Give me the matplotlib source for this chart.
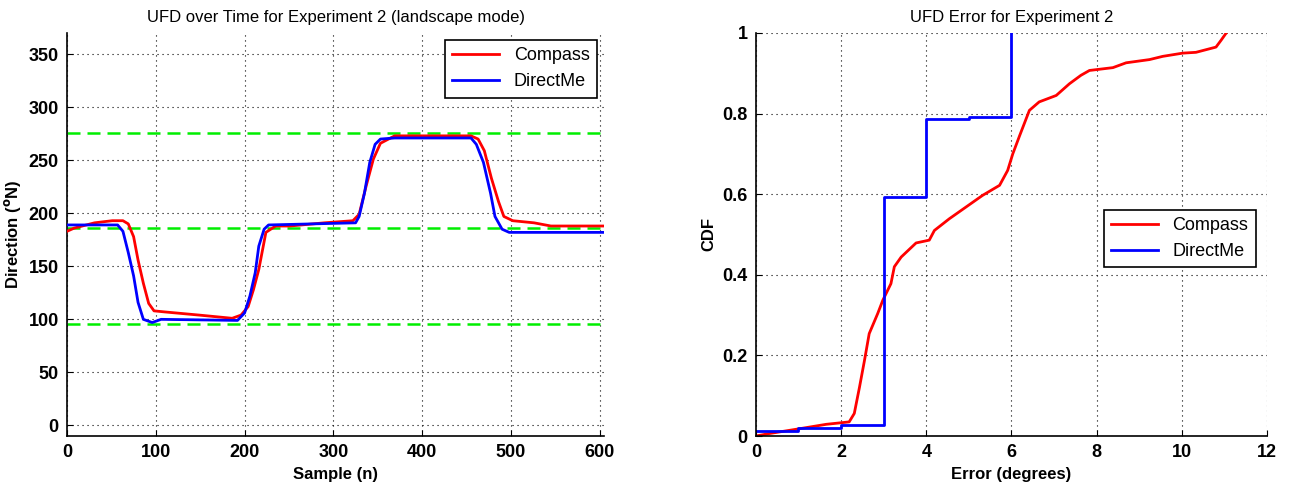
import matplotlib
matplotlib.use('Agg')
import matplotlib.pyplot as plt
from matplotlib import font_manager

# --- left panel: direction over time ---
compass_n = [0, 8, 31, 51, 63, 69, 75, 80, 86, 92, 98, 110, 149, 186, 196, 204,
             210, 216, 224, 235, 251, 290, 322, 329, 337, 345, 353, 369, 455,
             463, 470, 478, 486, 492, 502, 526, 545, 604]
compass_dir = [183, 186, 191, 193, 193, 190, 178, 156, 134, 115, 108, 107, 104,
               101, 104, 112, 128, 147, 182, 188, 188, 191, 193, 199, 226, 251,
               266, 273, 273, 270, 259, 233, 211, 197, 193, 191, 188, 188]

directme_n = [0, 57, 63, 69, 75, 80, 86, 96, 106, 192, 200, 206, 212, 216, 222,
              227, 325, 329, 335, 341, 347, 353, 369, 455, 461, 469, 477, 482,
              490, 498, 604]
directme_dir = [189, 189, 183, 163, 141, 116, 100, 97, 100, 99, 106, 122, 144,
                169, 185, 189, 191, 197, 219, 248, 265, 270, 271, 271, 265, 248,
                219, 197, 185, 182, 182]

ref_lines = [276, 186, 96]

# --- right panel: error CDF ---
compass_err = [0.0, 0.31, 1.02, 1.65, 2.19, 2.31, 2.43, 2.55, 2.66, 2.86, 2.98,
               3.17, 3.25, 3.41, 3.76, 4.07, 4.19, 4.54, 4.93, 5.32, 5.72, 5.91,
               6.03, 6.19, 6.42, 6.65, 7.05, 7.36, 7.63, 7.83, 8.38, 8.69, 9.24,
               9.55, 10.02, 10.33, 10.80, 10.92, 11.04]
compass_cdf = [0.0, 0.006, 0.018, 0.029, 0.035, 0.056, 0.12, 0.188, 0.254, 0.304,
               0.337, 0.378, 0.42, 0.444, 0.479, 0.486, 0.51, 0.539, 0.568, 0.597,
               0.622, 0.659, 0.70, 0.745, 0.808, 0.829, 0.845, 0.874, 0.895, 0.907,
               0.914, 0.926, 0.934, 0.942, 0.95, 0.952, 0.965, 0.982, 1.0]

directme_err = [0, 1, 2, 3, 4, 5, 6]
directme_cdf = [0.013, 0.02, 0.027, 0.593, 0.786, 0.792, 1.0]

names = [f.name for f in font_manager.fontManager.ttflist]
fam = 'Liberation Sans Narrow' if 'Liberation Sans Narrow' in names else 'Liberation Sans'
plt.rcParams['font.family'] = [fam, 'DejaVu Sans']

RED = '#ff0000'
BLUE = '#0000ff'
GREEN = '#00ee00'


def style_axes(ax):
    ax.grid(True, color='black', linestyle=(0, (1, 3.5)), linewidth=0.8)
    ax.set_axisbelow(True)
    for s in ('top', 'right'):
        ax.spines[s].set_visible(False)
    for s in ('left', 'bottom'):
        ax.spines[s].set_linewidth(1.2)
    ax.tick_params(direction='in', length=4, labelsize=13, pad=6)
    for lab in ax.get_xticklabels() + ax.get_yticklabels():
        lab.set_fontweight('bold')


fig = plt.figure(figsize=(12.91, 4.93), dpi=100)
ax1 = fig.add_axes([0.0519, 0.1156, 0.4161, 0.8175])
ax2 = fig.add_axes([0.5855, 0.1156, 0.3960, 0.8175])

for y in ref_lines:
    ax1.axhline(y, color=GREEN, linestyle=(0, (5.2, 2.8)), linewidth=1.8, zorder=2)
ax1.plot(compass_n, compass_dir, color=RED, linewidth=2, label='Compass', zorder=3)
ax1.plot(directme_n, directme_dir, color=BLUE, linewidth=2, label='DirectMe', zorder=4)
ax1.set_xlim(0, 605)
ax1.set_ylim(-10, 370)
ax1.set_xticks(range(0, 601, 100))
ax1.set_yticks(range(0, 351, 50))
ax1.set_title('UFD over Time for Experiment 2 (landscape mode)', fontsize=12, pad=8)
ax1.set_xlabel('Sample (n)', fontsize=12, fontweight='bold')
ax1.set_ylabel('Direction ($^{\\mathbf{o}}$N)', fontsize=12, fontweight='bold')
style_axes(ax1)
leg1 = ax1.legend(loc='upper right', fontsize=13, fancybox=False, edgecolor='black',
                  framealpha=1, handlelength=2.6, borderaxespad=0.4)
leg1.get_frame().set_linewidth(1.2)

ax2.plot(compass_err, compass_cdf, color=RED, linewidth=2, label='Compass')
ax2.plot(directme_err, directme_cdf, color=BLUE, linewidth=2, label='DirectMe',
         drawstyle='steps-post')
ax2.set_xlim(0, 12)
ax2.set_ylim(0, 1)
ax2.set_xticks(range(0, 13, 2))
ax2.set_yticks([0, 0.2, 0.4, 0.6, 0.8, 1])
ax2.set_yticklabels(['0', '0.2', '0.4', '0.6', '0.8', '1'])
ax2.set_title('UFD Error for Experiment 2', fontsize=12, pad=8)
ax2.set_xlabel('Error (degrees)', fontsize=12, fontweight='bold')
ax2.set_ylabel('CDF', fontsize=12, fontweight='bold')
style_axes(ax2)
leg2 = ax2.legend(loc='center right', bbox_to_anchor=(0.995, 0.49), fontsize=13,
                  fancybox=False, edgecolor='black', framealpha=1, handlelength=2.6)
leg2.get_frame().set_linewidth(1.2)

fig.savefig('out.png', dpi=100)
